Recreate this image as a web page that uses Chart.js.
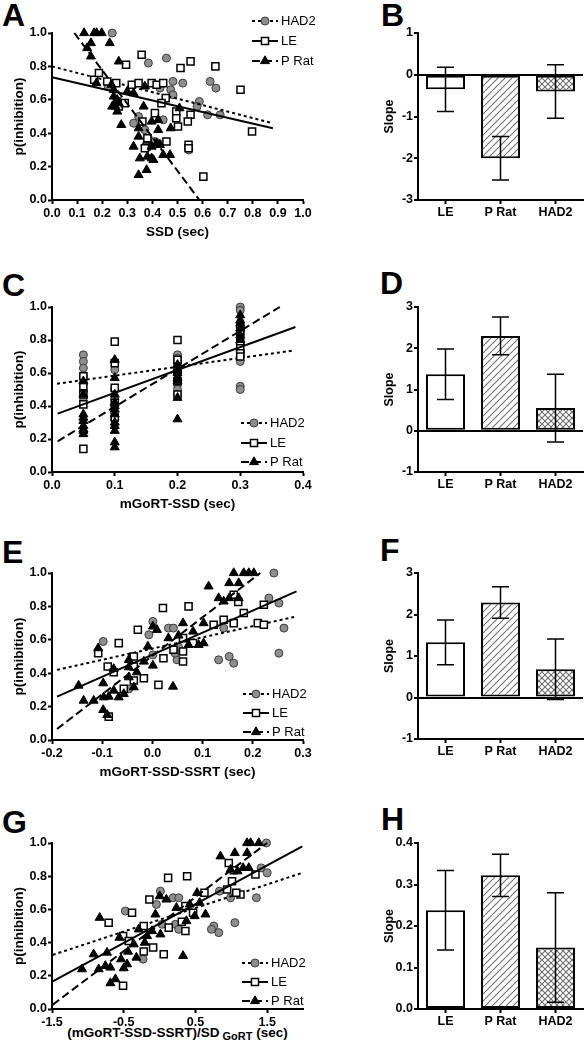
<!DOCTYPE html>
<html><head><meta charset="utf-8">
<script src="https://cdn.jsdelivr.net/npm/chart.js@4.4.1/dist/chart.umd.min.js"></script>
<style>
body{margin:0;background:#fff;width:587px;height:1050px;position:relative;overflow:hidden;font-family:"Liberation Sans",Arial,Helvetica,sans-serif;}
canvas{position:absolute;}
.lbl{position:absolute;font:bold 32px/32px "Liberation Sans",Arial,Helvetica,sans-serif;color:#000;}
#gx{position:absolute;left:40px;width:275px;top:1025px;text-align:center;font:bold 13.5px/16px "Liberation Sans",Arial,Helvetica,sans-serif;color:#000;white-space:nowrap;}
#gx sub{font-size:11px;vertical-align:-3px;line-height:0;}
</style></head><body>
<div class="lbl" style="left:2px;top:-1px">A</div>
<div class="lbl" style="left:381px;top:-1px">B</div>
<div class="lbl" style="left:2px;top:269px">C</div>
<div class="lbl" style="left:380px;top:267px">D</div>
<div class="lbl" style="left:2px;top:536px">E</div>
<div class="lbl" style="left:380px;top:534px">F</div>
<div class="lbl" style="left:2px;top:806px">G</div>
<div class="lbl" style="left:381px;top:803px">H</div>
<div id="gx">(mGoRT-SSD-SSRT)/SD<sub> GoRT</sub> (sec)</div>
<script>
// ---------------- DATA ----------------
const groups = ['HAD2', 'LE', 'P Rat'];
const barCats = ['LE', 'P Rat', 'HAD2'];
const pTicks = [0, 0.2, 0.4, 0.6, 0.8, 1.0];

// Panel A : SSD (sec)
const A_xTicks = [0,0.1,0.2,0.3,0.4,0.5,0.6,0.7,0.8,0.9,1.0];
const A_HAD2 = [[0.24,1.0],[0.384,0.82],[0.456,0.85],[0.224,0.68],[0.325,0.46],[0.345,0.50],[0.37,0.42],[0.384,0.37],[0.43,0.67],[0.443,0.48],[0.473,0.66],[0.482,0.71],[0.482,0.63],[0.521,0.70],[0.587,0.59],[0.578,0.56],[0.545,0.30],[0.62,0.51],[0.63,0.71],[0.653,0.67],[0.67,0.51],[0.423,0.34],[0.41,0.35]];
const A_LE = [[0.168,0.72],[0.187,0.76],[0.22,0.71],[0.256,0.70],[0.295,0.81],[0.318,0.69],[0.345,0.70],[0.357,0.87],[0.397,0.70],[0.417,0.69],[0.443,0.70],[0.453,0.61],[0.436,0.58],[0.41,0.52],[0.36,0.47],[0.377,0.32],[0.37,0.31],[0.456,0.35],[0.495,0.53],[0.495,0.49],[0.502,0.44],[0.512,0.79],[0.552,0.83],[0.552,0.51],[0.541,0.47],[0.544,0.33],[0.544,0.31],[0.603,0.14],[0.651,0.80],[0.751,0.66],[0.797,0.41],[0.259,0.59],[0.266,0.56],[0.29,0.58],[0.38,0.37]];
const A_PRat = [[0.128,1.0],[0.168,1.0],[0.178,1.0],[0.198,1.0],[0.155,0.94],[0.14,0.91],[0.23,0.94],[0.155,0.86],[0.266,0.83],[0.177,0.70],[0.237,0.69],[0.246,0.66],[0.246,0.62],[0.253,0.56],[0.26,0.53],[0.266,0.58],[0.24,0.56],[0.276,0.45],[0.30,0.65],[0.325,0.64],[0.37,0.68],[0.365,0.56],[0.325,0.32],[0.345,0.43],[0.345,0.38],[0.345,0.15],[0.377,0.18],[0.35,0.25],[0.38,0.26],[0.397,0.47],[0.397,0.32],[0.397,0.25],[0.404,0.24],[0.417,0.34],[0.423,0.42],[0.423,0.48],[0.43,0.33],[0.443,0.27],[0.47,0.27],[0.473,0.43],[0.508,0.55],[0.26,0.60]];
const A_fitHAD2 = [[0,0.80],[0.88,0.46]];
const A_fitLE = [[0,0.735],[0.88,0.43]];
const A_fitPRat = [[0.089,1.0],[0.587,0.0]];

// Panel C : mGoRT-SSD (sec)
const C_xTicks = [0,0.1,0.2,0.3,0.4];
const C_HAD2 = [[0.05,0.71],[0.05,0.67],[0.05,0.63],[0.05,0.58],[0.05,0.54],[0.05,0.49],[0.05,0.45],[0.1,0.62],[0.1,0.50],[0.1,0.44],[0.1,0.36],[0.1,0.32],[0.2,0.71],[0.2,0.69],[0.2,0.67],[0.2,0.65],[0.2,0.62],[0.2,0.59],[0.2,0.56],[0.2,0.53],[0.2,0.50],[0.2,0.47],[0.3,1.0],[0.3,0.98],[0.3,0.84],[0.3,0.78],[0.3,0.73],[0.3,0.70],[0.3,0.67],[0.3,0.52],[0.3,0.50]];
const C_LE = [[0.05,0.58],[0.05,0.52],[0.05,0.47],[0.05,0.41],[0.05,0.14],[0.1,0.79],[0.1,0.66],[0.1,0.51],[0.1,0.42],[0.1,0.33],[0.2,0.80],[0.2,0.68],[0.2,0.62],[0.2,0.55],[0.2,0.47],[0.3,0.88],[0.3,0.85],[0.3,0.79],[0.3,0.75],[0.3,0.72],[0.3,0.70]];
const C_PRat = [[0.05,0.55],[0.05,0.47],[0.05,0.35],[0.05,0.33],[0.05,0.31],[0.05,0.28],[0.05,0.26],[0.05,0.25],[0.05,0.23],[0.1,0.68],[0.1,0.57],[0.1,0.47],[0.1,0.42],[0.1,0.40],[0.1,0.38],[0.1,0.35],[0.1,0.30],[0.1,0.28],[0.1,0.25],[0.1,0.18],[0.1,0.15],[0.2,0.65],[0.2,0.62],[0.2,0.60],[0.2,0.57],[0.2,0.55],[0.2,0.45],[0.2,0.32],[0.3,0.95],[0.3,0.92],[0.3,0.90],[0.3,0.87],[0.3,0.83],[0.3,0.80]];
const C_fitHAD2 = [[0.008,0.535],[0.386,0.737]];
const C_fitLE = [[0.009,0.354],[0.388,0.879]];
const C_fitPRat = [[0.009,0.186],[0.363,1.0]];

// Panel E : mGoRT-SSD-SSRT (sec)
const E_xTicks = [-0.2,-0.1,0,0.1,0.2,0.3];
const E_HAD2 = [[-0.098,0.59],[0.001,0.71],[-0.007,0.63],[0.001,0.51],[0.032,0.67],[0.042,0.67],[0.052,0.556],[0.049,0.48],[-0.047,0.306],[0.132,0.48],[0.142,0.67],[0.153,0.50],[0.162,0.46],[0.232,0.85],[0.242,1.0],[0.252,0.82],[0.262,0.67],[0.252,0.52],[0.045,0.52]];
const E_LE = [[-0.108,0.52],[-0.089,0.44],[-0.077,0.406],[-0.067,0.58],[-0.029,0.66],[-0.037,0.50],[-0.037,0.44],[-0.037,0.356],[-0.017,0.37],[-0.057,0.306],[0.021,0.79],[0.022,0.49],[0.012,0.33],[0.072,0.80],[0.042,0.54],[0.061,0.47],[0.061,0.53],[0.081,0.58],[0.061,0.61],[0.122,0.69],[0.142,0.72],[0.162,0.70],[0.162,0.87],[0.171,0.826],[0.182,0.76],[0.21,0.70],[0.222,0.69],[0.222,0.81],[-0.087,0.14]];
const E_PRat = [[-0.108,0.55],[-0.147,0.326],[-0.137,0.236],[-0.117,0.236],[-0.098,0.34],[-0.098,0.18],[-0.09,0.15],[-0.097,0.256],[-0.087,0.26],[-0.077,0.296],[-0.077,0.426],[-0.067,0.256],[-0.057,0.276],[-0.047,0.48],[-0.047,0.436],[-0.047,0.376],[-0.037,0.316],[-0.031,0.406],[-0.017,0.47],[-0.009,0.56],[0.001,0.446],[0.001,0.68],[0.009,0.66],[0.032,0.61],[0.041,0.32],[0.061,0.70],[0.052,0.626],[0.072,0.57],[0.081,0.65],[0.102,0.58],[0.102,0.70],[0.112,0.92],[0.132,0.85],[0.142,0.83],[0.153,0.85],[0.153,0.94],[0.162,1.0],[0.172,0.94],[0.172,0.85],[0.182,1.0],[0.192,1.0],[0.202,1.0],[0.092,0.57]];
const E_fitHAD2 = [[-0.19,0.42],[0.287,0.74]];
const E_fitLE = [[-0.19,0.26],[0.287,0.89]];
const E_fitPRat = [[-0.19,0.066],[0.215,1.0]];

// Panel G : (mGoRT-SSD-SSRT)/SD GoRT (sec)
const G_xTicks = [-1.5,-0.5,0.5,1.5];
const G_HAD2 = [[-0.477,0.59],[0.012,0.71],[-0.044,0.63],[0.188,0.67],[0.267,0.67],[0.221,0.51],[0.267,0.48],[-0.23,0.30],[0.035,0.51],[0.756,0.50],[0.723,0.48],[0.826,0.46],[0.835,0.71],[0.99,0.67],[1.05,0.52],[1.416,0.85],[1.5,0.82],[1.35,0.67],[1.49,1.0]];
const G_LE = [[-0.71,0.52],[-0.384,0.58],[-0.509,0.44],[-0.43,0.41],[-0.509,0.14],[-0.142,0.66],[-0.221,0.50],[-0.221,0.346],[-0.09,0.37],[0.119,0.79],[0.128,0.49],[0.058,0.33],[0.384,0.80],[0.36,0.47],[0.467,0.58],[0.36,0.62],[0.626,0.70],[0.942,0.72],[1.035,0.836],[0.965,0.88],[1.01,0.77],[1.128,0.69],[1.07,0.70],[1.337,0.81],[0.31,0.526]];
const G_PRat = [[-0.835,0.55],[-1.081,0.24],[-0.919,0.33],[-0.733,0.34],[-0.849,0.24],[-0.756,0.26],[-0.686,0.25],[-0.686,0.156],[-0.616,0.18],[-0.537,0.30],[-0.5,0.246],[-0.453,0.27],[-0.44,0.346],[-0.56,0.43],[-0.36,0.39],[-0.323,0.31],[-0.291,0.48],[-0.207,0.40],[-0.174,0.44],[-0.105,0.47],[-0.058,0.57],[0.012,0.45],[0.002,0.68],[0.095,0.66],[0.235,0.61],[0.328,0.32],[0.374,0.53],[0.42,0.63],[0.49,0.56],[0.523,0.70],[0.64,0.57],[0.56,0.64],[0.849,0.92],[1.049,0.94],[1.22,1.0],[1.27,1.0],[1.384,1.0],[1.221,0.94],[0.99,0.84],[1.088,0.83],[1.165,0.85],[1.244,0.85]];
const G_fitHAD2 = [[-1.49,0.326],[1.99,0.82]];
const G_fitLE = [[-1.49,0.166],[1.99,0.98]];
const G_fitPRat = [[-1.49,0.026],[1.5,1.0]];

// Bar panels : slopes (order LE, P Rat, HAD2) and error half-widths
const B_slope = [-0.35, -2.0, -0.40];  const B_err = [0.53, 0.52, 0.64];  const B_yTicks = [-3,-2,-1,0,1];
const D_slope = [1.37, 2.30, 0.55];    const D_err = [0.61, 0.46, 0.82];  const D_yTicks = [-1,0,1,2,3];
const F_slope = [1.33, 2.29, 0.68];    const F_err = [0.54, 0.38, 0.73];  const F_yTicks = [-1,0,1,2,3];
const H_slope = [0.238, 0.322, 0.148]; const H_err = [0.096, 0.051, 0.132]; const H_yTicks = [0,0.1,0.2,0.3,0.4];

// ---------------- RENDERING ----------------
const FONT = '"Liberation Sans", Arial, Helvetica, sans-serif';
Chart.defaults.font.family = FONT;
Chart.defaults.color = '#000';
Chart.defaults.animation = false;

const style = {
  'HAD2': {ps:'circle', r:4, bg:'#8e8e8e', bd:'#3c3c3c', bw:1, dash:[3,3]},
  'LE':   {ps:'rect', r:5, bg:'#ffffff', bd:'#000000', bw:1.5, dash:[]},
  'P Rat':{ps:'triangle', r:5.2, bg:'#000000', bd:'#000000', bw:1, dash:[8,4]}
};

function drawMarker(ctx, key, x, y){
  const s = style[key];
  ctx.save();
  ctx.fillStyle = s.bg; ctx.strokeStyle = s.bd; ctx.lineWidth = s.bw; ctx.setLineDash([]);
  ctx.beginPath();
  if (s.ps === 'circle') { ctx.arc(x, y, s.r, 0, Math.PI*2); }
  else if (s.ps === 'rect') { const h = s.r*Math.SQRT1_2; ctx.rect(x-h, y-h, 2*h, 2*h); }
  else { const r = s.r; ctx.moveTo(x, y - r); ctx.lineTo(x + r*0.866, y + r*0.5); ctx.lineTo(x - r*0.866, y + r*0.5); ctx.closePath(); }
  ctx.fill(); ctx.stroke();
  ctx.restore();
}

const legendPlugin = {
  id: 'customLegend',
  afterDraw(chart){
    const L = chart.options.plugins.customLegend;
    if (!L || !L.rows) return;
    const ctx = chart.ctx;
    ctx.save();
    L.rows.forEach((y, i) => {
      const key = groups[i];
      const s = style[key];
      ctx.strokeStyle = '#000'; ctx.lineWidth = 2; ctx.setLineDash(s.dash);
      ctx.beginPath(); ctx.moveTo(L.x0, y); ctx.lineTo(L.x1, y); ctx.stroke();
      ctx.setLineDash([]);
      drawMarker(ctx, key, (L.x0 + L.x1)/2, y);
      ctx.fillStyle = '#000'; ctx.font = '13px ' + FONT;
      ctx.textBaseline = 'middle'; ctx.textAlign = 'left';
      ctx.fillText(key, L.x1 + 3, y + 0.5);
    });
    ctx.restore();
  }
};

const errPlugin = {
  id: 'errBars',
  afterDatasetsDraw(chart){
    const o = chart.options.plugins.errBars;
    if (!o) return;
    const meta = chart.getDatasetMeta(0);
    const ys = chart.scales.y;
    const vals = chart.data.datasets[0].data;
    const ctx = chart.ctx;
    ctx.save(); ctx.strokeStyle = '#000'; ctx.lineWidth = 1.5;
    meta.data.forEach((bar, i) => {
      const y1 = ys.getPixelForValue(vals[i] + o.errors[i]);
      const y2 = ys.getPixelForValue(vals[i] - o.errors[i]);
      ctx.beginPath();
      ctx.moveTo(bar.x, y1); ctx.lineTo(bar.x, y2);
      ctx.moveTo(bar.x - 8.5, y1); ctx.lineTo(bar.x + 8.5, y1);
      ctx.moveTo(bar.x - 8.5, y2); ctx.lineTo(bar.x + 8.5, y2);
      ctx.stroke();
    });
    ctx.restore();
  }
};

function makeHatch(cross){
  const s = cross ? 6 : 7;
  const c = document.createElement('canvas'); c.width = s; c.height = s;
  const g = c.getContext('2d');
  g.fillStyle = '#fff'; g.fillRect(0, 0, s, s);
  g.strokeStyle = '#6e6e6e'; g.lineWidth = 1.1;
  const diag = (flip) => {
    for (const off of [-s, 0, s]) {
      g.beginPath();
      if (!flip) { g.moveTo(off, s); g.lineTo(off + s, 0); }
      else { g.moveTo(off, 0); g.lineTo(off + s, s); }
      g.stroke();
    }
  };
  diag(false); if (cross) diag(true);
  return g.createPattern(c, 'repeat');
}
const diagPattern = makeHatch(false);
const crossPattern = makeHatch(true);

function addCanvas(left, top, w, h){
  const cv = document.createElement('canvas');
  cv.width = w; cv.height = h;
  cv.style.left = left + 'px'; cv.style.top = top + 'px';
  cv.style.width = w + 'px'; cv.style.height = h + 'px';
  document.body.appendChild(cv);
  return cv;
}

function axisCommon(){
  return {
    grid: {drawOnChartArea:false, drawTicks:true, tickLength:4, tickColor:'#000', tickWidth:2},
    border: {display:true, color:'#000', width:2}
  };
}

function scatterPanel(o){
  const PT = 33, XH = 44, W = 340;
  const H = PT + o.plotH + XH;
  const cv = addCanvas(0, o.plotTop - PT, W, H);
  const pts = {'HAD2': o.HAD2, 'LE': o.LE, 'P Rat': o.PRat};
  const fits = {'HAD2': o.fitHAD2, 'LE': o.fitLE, 'P Rat': o.fitPRat};
  const datasets = [];
  ['P Rat', 'LE', 'HAD2'].forEach(k => {
    const s = style[k];
    datasets.push({label: k + ' fit', data: fits[k].map(p => ({x:p[0], y:p[1]})), showLine:true, pointRadius:0,
      borderColor:'#000', borderWidth:2, borderDash:s.dash, clip:false});
    datasets.push({label: k, data: pts[k].map(p => ({x:p[0], y:p[1]})), showLine:false,
      pointStyle:s.ps, pointRadius:s.r, pointBackgroundColor:s.bg, pointBorderColor:s.bd, pointBorderWidth:s.bw, clip:false});
  });
  const xa = axisCommon(), ya = axisCommon();
  new Chart(cv, {
    type: 'scatter',
    data: {datasets},
    options: {
      responsive:false, devicePixelRatio:1, animation:false,
      events: [],
      layout: {padding: {top:PT, right: W - 303, left:0, bottom:0}},
      plugins: {legend:{display:false}, tooltip:{enabled:false}, customLegend: o.legend},
      scales: {
        x: Object.assign(xa, {type:'linear', min:o.xmin, max:o.xmax,
          afterBuildTicks: s => { s.ticks = o.xTicks.map(v => ({value:v})); },
          afterFit: s => { s.height = XH; },
          ticks: {autoSkip:false, maxRotation:0, padding:2, color:'#000', font:{size:12.5, weight:'bold'}, callback: v => v.toFixed(1)},
          title: {display: !!o.xTitle, text: o.xTitle || '', color:'#000', font:{size:13.5, weight:'bold'}, padding:{top:0, bottom:4}}
        }),
        y: Object.assign(ya, {type:'linear', min:0, max:1,
          afterBuildTicks: s => { s.ticks = pTicks.map(v => ({value:v})); },
          afterFit: s => { s.width = 52; },
          ticks: {padding:1, color:'#000', font:{size:12.5, weight:'bold'}, callback: v => v.toFixed(1)},
          title: {display:true, text:'p(inhibition)', color:'#000', font:{size:13.5, weight:'bold'}, padding:{top:11, bottom:0}}
        })
      }
    },
    plugins: [legendPlugin]
  });
}

function barPanel(o){
  const PT = 33, XH = 24, W = 207, LEFT = 380;
  const H = PT + o.plotH + XH;
  const cv = addCanvas(LEFT, o.plotTop - PT, W, H);
  const xa = axisCommon(), ya = axisCommon();
  xa.grid.offset = false;
  ya.grid = {drawOnChartArea:true, drawTicks:true, tickLength:4, tickColor:'#000', tickWidth:2,
    color: c => (c.tick && c.tick.value === 0) ? '#000' : 'rgba(0,0,0,0)', lineWidth:2};
  new Chart(cv, {
    type: 'bar',
    data: {labels: barCats, datasets: [{data: o.slope, backgroundColor: ['#ffffff', diagPattern, crossPattern],
      borderColor:'#000', borderWidth:2, borderSkipped:false, barPercentage:0.71, categoryPercentage:1}]},
    options: {
      responsive:false, devicePixelRatio:1, animation:false, events: [],
      layout: {padding: {top:PT, right: W - (583 - LEFT), left:0, bottom:0}},
      plugins: {legend:{display:false}, tooltip:{enabled:false}, errBars:{errors:o.err}},
      scales: {
        x: Object.assign(xa, {type:'category', offset:true,
          afterFit: s => { s.height = XH; },
          ticks: {padding:1, color:'#000', font:{size:12.5, weight:'bold'}, maxRotation:0, autoSkip:false}
        }),
        y: Object.assign(ya, {type:'linear', min:o.yTicks[0], max:o.yTicks[o.yTicks.length-1],
          afterBuildTicks: s => { s.ticks = o.yTicks.map(v => ({value:v})); },
          afterFit: s => { s.width = 38; },
          ticks: {padding:1, color:'#000', font:{size:12.5, weight:'bold'}, callback: v => o.fmt(v)},
          title: {display:true, text:'Slope', color:'#000', font:{size:12.5, weight:'bold'}, padding:{top:2, bottom:0}}
        })
      }
    },
    plugins: [errPlugin]
  });
}

scatterPanel({plotTop:33, plotH:167, xmin:0, xmax:1, xTicks:A_xTicks, xTitle:'SSD (sec)',
  HAD2:A_HAD2, LE:A_LE, PRat:A_PRat, fitHAD2:A_fitHAD2, fitLE:A_fitLE, fitPRat:A_fitPRat,
  legend:{x0:252, x1:278, rows:[21, 41, 61]}});
scatterPanel({plotTop:307, plotH:165, xmin:0, xmax:0.4, xTicks:C_xTicks, xTitle:'mGoRT-SSD (sec)',
  HAD2:C_HAD2, LE:C_LE, PRat:C_PRat, fitHAD2:C_fitHAD2, fitLE:C_fitLE, fitPRat:C_fitPRat,
  legend:{x0:241, x1:267, rows:[149, 169, 188]}});
scatterPanel({plotTop:573, plotH:167, xmin:-0.2, xmax:0.3, xTicks:E_xTicks, xTitle:'mGoRT-SSD-SSRT (sec)',
  HAD2:E_HAD2, LE:E_LE, PRat:E_PRat, fitHAD2:E_fitHAD2, fitLE:E_fitLE, fitPRat:E_fitPRat,
  legend:{x0:243, x1:269, rows:[154, 173, 192]}});
scatterPanel({plotTop:843, plotH:166, xmin:-1.5, xmax:2.0, xTicks:G_xTicks, xTitle:'',
  HAD2:G_HAD2, LE:G_LE, PRat:G_PRat, fitHAD2:G_fitHAD2, fitLE:G_fitLE, fitPRat:G_fitPRat,
  legend:{x0:242, x1:268, rows:[153, 172, 191]}});

const intFmt = v => String(Math.round(v));
barPanel({plotTop:33, plotH:167, slope:B_slope, err:B_err, yTicks:B_yTicks, fmt:intFmt});
barPanel({plotTop:307, plotH:165, slope:D_slope, err:D_err, yTicks:D_yTicks, fmt:intFmt});
barPanel({plotTop:573, plotH:166, slope:F_slope, err:F_err, yTicks:F_yTicks, fmt:intFmt});
barPanel({plotTop:843, plotH:166, slope:H_slope, err:H_err, yTicks:H_yTicks, fmt: v => v.toFixed(1)});
</script>
</body></html>
